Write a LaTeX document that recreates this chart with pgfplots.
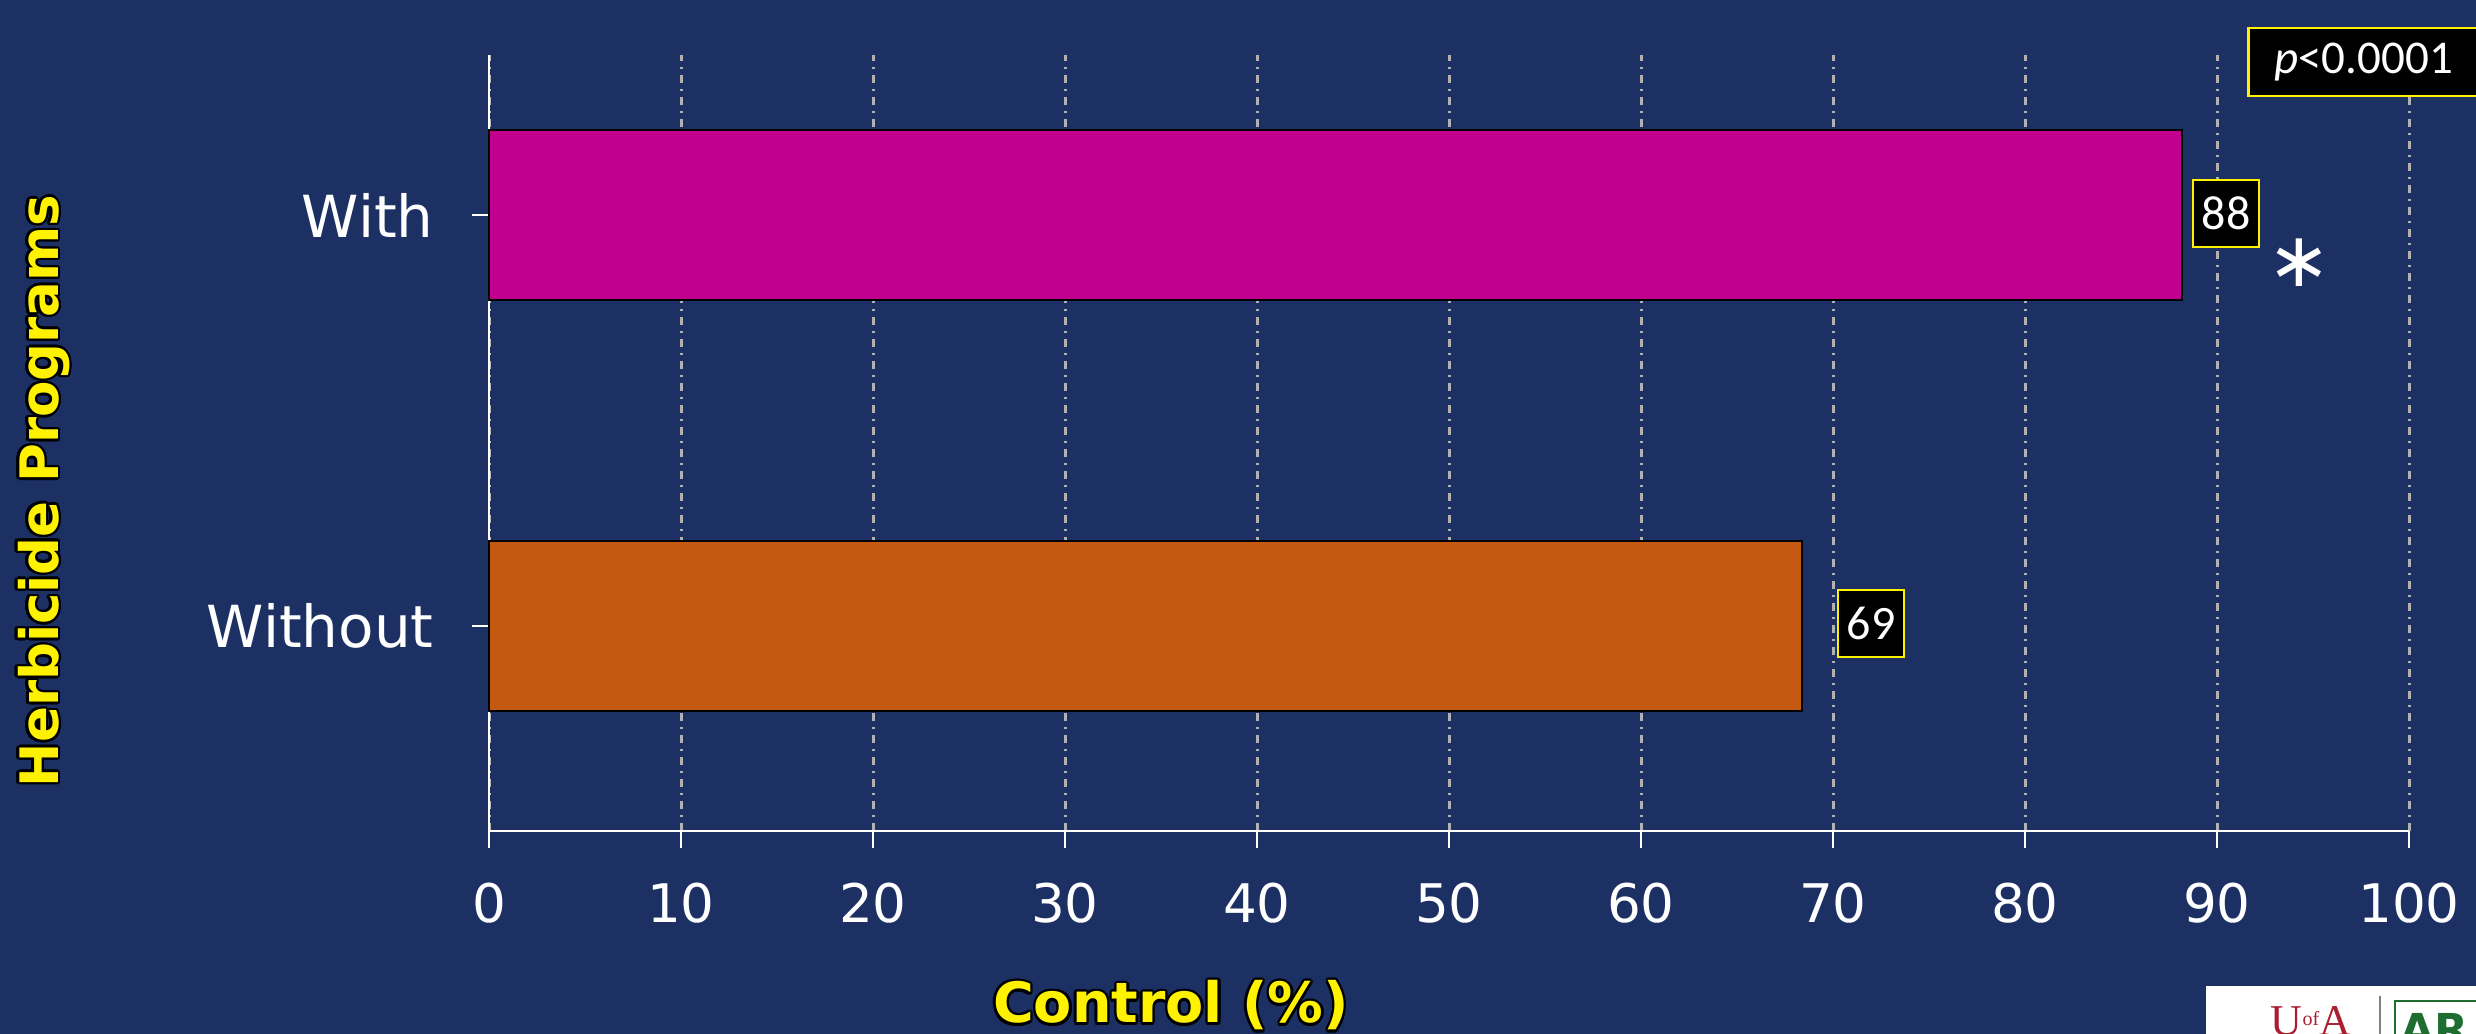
\documentclass[border=0pt]{standalone}
\usepackage{pgfplots}
\pgfplotsset{compat=1.18}
\usepackage{fontspec}
\setmainfont{DejaVu Sans}
\newfontfamily\carlito{Carlito}
\newfontfamily\libserif{Liberation Serif}
\definecolor{bgc}{RGB}{28,48,100}
\definecolor{barmag}{RGB}{194,0,143}
\definecolor{barorg}{RGB}{196,89,17}
\definecolor{gridc}{RGB}{178,178,178}
\definecolor{ua}{RGB}{170,30,50}
\definecolor{arg}{RGB}{30,110,50}
\newcommand\olabel[3]{%
  \foreach \a in {0,30,...,330}{\node[#1,text=black,shift={(\a:0.6pt)}] at (#2) {#3};}%
  \node[#1,text=yellow] at (#2) {#3};}
\begin{document}
\begin{tikzpicture}
\fill[bgc] (0,0) rectangle (619pt,258.5pt);
\begin{axis}[
  at={(122.25pt,50.75pt)}, anchor=south west,
  scale only axis, width=480pt, height=194pt,
  xmin=0, xmax=100, ymin=-0.5, ymax=1.39,
  xbar, bar width=42.5pt,
  axis x line=bottom, axis y line=left,
  axis line style={-, white, line width=0.6pt},
  xtick={0,10,...,100}, ytick={0,1}, yticklabels={Without,With},
  tick align=outside, major tick length=4.25pt,
  tick style={white, line width=0.5pt},
  xmajorgrids,
  major grid style={gridc, line width=0.75pt, dash pattern=on 2pt off 1.5pt on 0.5pt off 1.5pt},
  /pgf/number format/assume math mode=true,
  xticklabel style={font=\fontsize{13.3}{15}\selectfont, text=white, anchor=north, inner sep=0pt, yshift=-8.5pt},
  yticklabel style={font=\fontsize{14.5}{16}\selectfont, text=white, anchor=east, inner sep=0pt, xshift=-9.4pt},
  clip=false,
]
\addplot[fill=barmag, draw=black, line width=0.5pt, bar shift=0pt] coordinates {(88.2,1)};
\addplot[fill=barorg, draw=black, line width=0.5pt, bar shift=0pt] coordinates {(68.4,0)};
\node[draw=yellow, fill=black, text=white, line width=0.5pt, font=\carlito\fontsize{12}{14}\selectfont, minimum width=16.5pt, minimum height=16.75pt, inner sep=0pt] at (axis cs:90.47,1.005) {88};
\node[draw=yellow, fill=black, text=white, line width=0.5pt, font=\carlito\fontsize{12}{14}\selectfont, minimum width=16.5pt, minimum height=16.75pt, inner sep=0pt] at (axis cs:71.98,0.005) {69};
\node[text=white, font=\fontsize{19}{21}\selectfont, inner sep=0pt] at (axis cs:94.27,0.883) {∗};
\end{axis}
\begin{scope}[shift={(0,258.5pt)}, x=0.25pt, y=-0.25pt]
\node[anchor=west, draw=yellow, fill=black, text=white, line width=0.65pt, inner xsep=6.5pt, minimum height=17pt, font=\carlito\fontsize{11.75}{13}\selectfont] at (2247,62) {\textit{p}<0.0001};
\fill[white] (2206,986) rectangle (2490,1040);
\node[anchor=base west, text=ua, font=\libserif\fontsize{11}{11}\selectfont, inner sep=0pt] at (2270,1036) {U\raisebox{2.5pt}{\fontsize{5}{5}\selectfont of}A};
\draw[gray, line width=0.5pt] (2380,996) -- (2380,1040);
\draw[arg, line width=0.7pt] (2395,1001) rectangle (2500,1045);
\node[anchor=base west, text=arg, font=\bfseries\fontsize{11}{11}\selectfont, inner sep=0pt] at (2400,1046) {AR};
\olabel{rotate=90, anchor=base, inner sep=0pt, font=\bfseries\fontsize{13.25}{15}\selectfont}{58,491}{Herbicide Programs}
\olabel{anchor=base, inner sep=0pt, font=\bfseries\fontsize{13.9}{15}\selectfont}{1171,1023}{Control (\%)}
\end{scope}
\pgfresetboundingbox
\useasboundingbox (0,0) rectangle (619pt,258.5pt);
\end{tikzpicture}
\end{document}
